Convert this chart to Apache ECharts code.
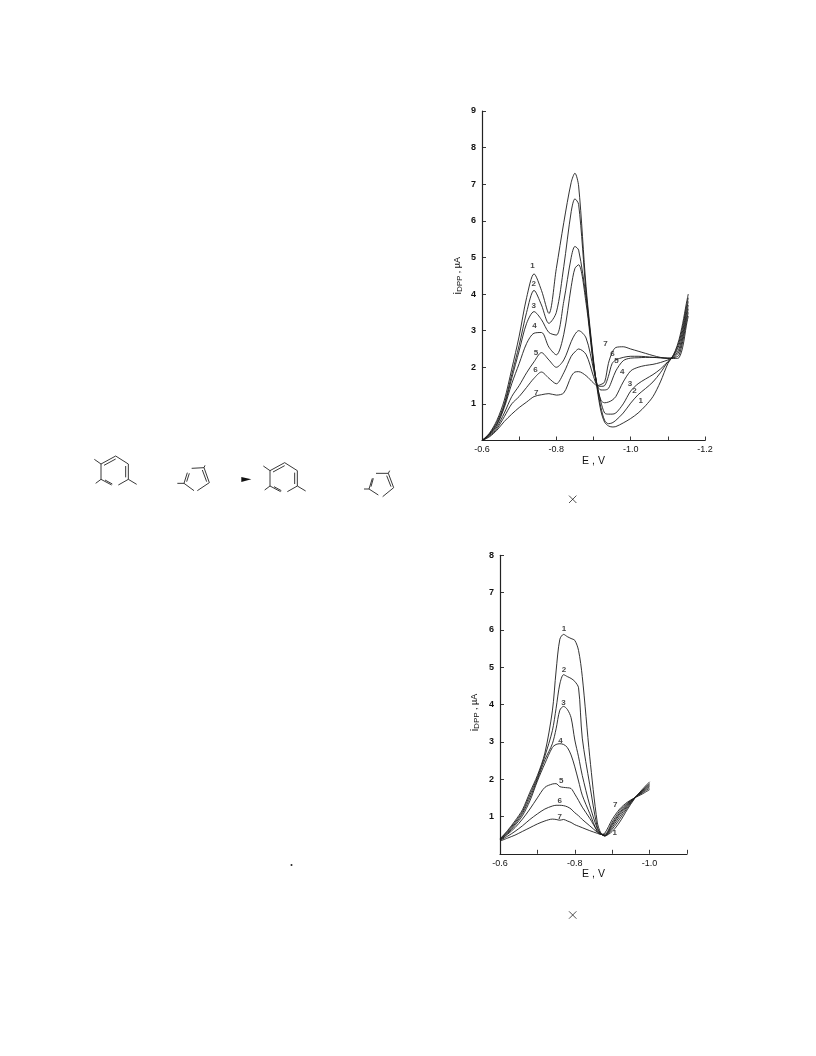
<!DOCTYPE html>
<html><head><meta charset="utf-8">
<style>html,body{margin:0;padding:0;background:#fff}#c{width:816px;height:1056px}</style>
<script src="https://cdn.jsdelivr.net/npm/echarts@6/dist/echarts.min.js"></script>
</head><body><div id="c"></div>
<script>
// Upper panel: E (V, magnitude) and i_DPP (uA)
const topE = [.60,.62,.64,.66,.68,.70,.72,.74,.76,.78,.80,.82,.84,.85,.86,.88,.90,.91,.92,.93,.94,.95,.96,.98,1.00,1.02,1.04,1.06,1.08,1.10,1.11,1.12,1.13,1.14,1.15,1.155];
const top1 = [0,.2,.55,1.1,1.95,2.85,3.9,4.55,4.1,3.47,4.7,5.95,7.05,7.3,6.95,4.2,2.2,1.4,.8,.5,.4,.37,.38,.48,.6,.75,.95,1.2,1.6,2.1,2.25,2.45,2.75,3.2,3.75,4.0];
const top2 = [0,.18,.5,1.0,1.8,2.6,3.5,4.1,3.7,3.2,3.5,4.75,6.25,6.6,6.45,4.05,2.15,1.45,.9,.55,.46,.48,.55,.75,1.02,1.25,1.42,1.6,1.85,2.15,2.25,2.42,2.68,3.1,3.65,3.9];
const top3 = [0,.17,.45,.95,1.7,2.45,3.2,3.52,3.3,2.95,2.88,3.8,5.0,5.3,5.2,3.9,2.1,1.5,1.05,.75,.72,.72,.75,1.0,1.35,1.55,1.68,1.8,1.95,2.15,2.25,2.38,2.6,3.0,3.55,3.8];
const top4 = [0,.16,.42,.9,1.55,2.1,2.65,2.93,2.95,2.55,2.34,2.9,4.2,4.7,4.8,3.75,2.05,1.5,1.1,1.03,1.05,1.1,1.2,1.6,1.9,2.0,2.05,2.08,2.13,2.2,2.25,2.33,2.5,2.9,3.45,3.7];
const top5 = [0,.14,.37,.75,1.2,1.5,1.85,2.15,2.4,2.2,2.0,2.2,2.7,2.9,3.0,2.8,1.95,1.5,1.38,1.38,1.42,1.65,1.9,2.18,2.25,2.26,2.27,2.27,2.26,2.25,2.25,2.3,2.42,2.8,3.35,3.6];
const top6 = [0,.12,.32,.65,1.0,1.2,1.45,1.7,1.87,1.7,1.55,1.85,2.3,2.42,2.5,2.35,1.75,1.5,1.48,1.5,1.75,2.1,2.2,2.27,2.3,2.3,2.29,2.27,2.26,2.25,2.25,2.27,2.33,2.7,3.25,3.5];
const top7 = [0,.1,.28,.52,.72,.9,1.05,1.2,1.25,1.28,1.24,1.3,1.75,1.87,1.88,1.77,1.57,1.5,1.53,1.6,2.1,2.4,2.54,2.56,2.5,2.44,2.38,2.32,2.27,2.24,2.24,2.24,2.26,2.55,3.15,3.4];
const topLabels = [['1',.736,4.77],['2',.739,4.29],['3',.739,3.67],['4',.741,3.12],['5',.745,2.39],['6',.744,1.92],['7',.746,1.3],
  ['7',.932,2.65],['6',.951,2.36],['5',.962,2.17],['4',.977,1.89],['3',.998,1.56],['2',1.01,1.35],['1',1.027,1.08]];

// Lower panel
const botE = [.60,.62,.64,.66,.68,.70,.72,.74,.75,.76,.77,.78,.79,.80,.81,.82,.84,.86,.87,.88,.90,.92,.94,.96,.98,1.00];
const bot1 = [.40,.62,.88,1.18,1.65,2.1,2.7,3.83,4.9,5.75,5.88,5.82,5.77,5.72,5.45,4.75,2.6,.85,.55,.48,.6,.85,1.18,1.48,1.72,1.93];
const bot2 = [.39,.6,.84,1.13,1.58,2.05,2.62,3.3,3.9,4.55,4.8,4.75,4.7,4.62,4.45,3.1,1.85,.72,.54,.48,.66,.93,1.23,1.49,1.70,1.89];
const bot3 = [.38,.57,.8,1.08,1.5,2.0,2.52,2.95,3.35,3.85,3.95,3.87,3.65,3.05,2.6,2.1,1.3,.68,.53,.48,.71,1.0,1.27,1.5,1.69,1.86];
const bot4 = [.37,.54,.76,1.02,1.42,1.95,2.42,2.85,2.93,2.95,2.93,2.85,2.65,2.33,1.95,1.57,1.08,.6,.53,.49,.76,1.06,1.3,1.5,1.67,1.83];
const bot5 = [.37,.52,.7,.93,1.2,1.5,1.78,1.87,1.88,1.8,1.78,1.77,1.75,1.6,1.43,1.25,.95,.62,.53,.5,.8,1.1,1.33,1.5,1.65,1.80];
const bot6 = [.36,.47,.6,.75,.92,1.07,1.2,1.28,1.3,1.3,1.29,1.26,1.2,1.1,1.02,.92,.75,.58,.52,.52,.85,1.15,1.35,1.5,1.63,1.76];
const bot7 = [.34,.42,.5,.6,.7,.8,.88,.93,.92,.9,.92,.88,.84,.78,.74,.7,.62,.55,.52,.55,.92,1.2,1.38,1.5,1.6,1.72];
const botLabels = [['1',.771,6.02],['2',.771,4.94],['3',.77,4.05],['4',.762,3.04],['5',.764,1.95],['6',.76,1.42],['7',.76,1.0],['7',.908,1.3],['1',.907,.55]];

const xName = 'E , V';
const FONT = 'Liberation Sans';
const INK = '#1c1c1c';

// Scheme artwork and small page marks (page decoration, not chart data)
const hexagon = [[[63,72],[107,48],[145,72],[145,118],[115,135]],[[95,135],[63,118],[63,72]],[[72,76],[107,57]],[[137,78],[137,112]],[[75,120],[97,132]],[[43,58],[63,72]],[[47,130],[63,118]],[[145,118],[170,133]]];
const penta = [[[292,130],[312,130],[322,98]],[[335,85],[372,83],[388,128],[352,152]],[[342,152],[312,130]],[[320,125],[328,100]],[[367,90],[380,125]],[[372,83],[375,76]]];
const penta2 = [[[852,147],[867,147],[877,115]],[[888,100],[925,100],[941,143],[908,170]],[[895,165],[867,147]],[[873,140],[880,115]],[[920,107],[933,140]],[[925,100],[929,92]]];
const crossMarks = [[572.7,499.3],[572.7,915]];

function z(p,dx,dy){return p.map(q=>[80+(q[0]+dx)/3,440+(q[1]+dy)/3]);}
const graphic=[];
function addShape(list,dx,dy){list.forEach(pl=>graphic.push({type:'polyline',shape:{points:z(pl,dx,dy)},style:{stroke:'#222',fill:null,lineWidth:.9},silent:true}));}
addShape(hexagon,0,0);addShape(penta,0,0);addShape(hexagon,507,20);addShape(penta2,0,0);
graphic.push({type:'polygon',shape:{points:z([[484,111],[514,118],[484,126]],0,0)},style:{fill:'#111'},silent:true});
crossMarks.forEach(c=>{
  graphic.push({type:'line',shape:{x1:c[0]-3.7,y1:c[1]-3.7,x2:c[0]+3.7,y2:c[1]+3.7},style:{stroke:'#222',lineWidth:.8},silent:true});
  graphic.push({type:'line',shape:{x1:c[0]-3.7,y1:c[1]+3.7,x2:c[0]+3.7,y2:c[1]-3.7},style:{stroke:'#222',lineWidth:.8},silent:true});
});
graphic.push({type:'circle',shape:{cx:291.5,cy:865,r:1},style:{fill:'#222'},silent:true});

function lines(E,arr,idx){
  const pts=E.map(e=>-e);
  return arr.map(v=>({type:'line',xAxisIndex:idx,yAxisIndex:idx,data:v.map((y,i)=>[pts[i],y]),smooth:.3,symbol:'none',clip:false,silent:true,
    lineStyle:{color:INK,width:.9}}));
}
function labels(L,idx){
  return {type:'scatter',xAxisIndex:idx,yAxisIndex:idx,symbolSize:1,silent:true,clip:false,itemStyle:{color:'transparent'},
    data:L.map(l=>({name:l[0],value:[-l[1],l[2]]})),
    label:{show:true,position:'inside',formatter:'{b}',fontFamily:FONT,fontSize:8,fontWeight:'bold',color:'#111'}};
}
function xAx(gi,min,gap){return {type:'value',gridIndex:gi,inverse:true,min:min,max:-0.6,interval:.1,
  axisLine:{onZero:false,lineStyle:{color:'#222',width:1.2}},axisTick:{inside:true,length:4,lineStyle:{color:'#222',width:.9}},splitLine:{show:false},
  axisLabel:{fontFamily:FONT,fontSize:9,color:'#111',margin:5,showMinLabel:true,showMaxLabel:true,
    formatter:v=>Math.round(-v*10)%2===0?'-'+(-v).toFixed(1):''},
  name:xName,nameLocation:'middle',nameGap:gap,nameTextStyle:{fontFamily:FONT,fontSize:10.5,color:'#111'}};}
function yAx(gi,max,gap,shift){return {type:'value',gridIndex:gi,min:0,max:max,interval:1,
  axisLine:{onZero:false,lineStyle:{color:'#222',width:1.2}},axisTick:{inside:true,length:4,lineStyle:{color:'#222',width:.9}},splitLine:{show:false},
  axisLabel:{fontFamily:FONT,fontSize:9,fontWeight:'bold',color:'#111',margin:6,formatter:v=>v===0?'':String(v)},
  name:'{i|i}{s|DPP}{n| , \u00b5A}',nameLocation:'middle',nameRotate:90,nameGap:gap,
  nameTextStyle:{padding:[0,shift,0,0],rich:{i:{fontFamily:FONT,fontSize:11,color:'#111'},s:{fontFamily:FONT,fontSize:8,color:'#111',padding:[5,0,0,0]},n:{fontFamily:FONT,fontSize:9,color:'#111'}}}};}

const chart=echarts.init(document.getElementById('c'),null,{renderer:'canvas'});
chart.setOption({
  animation:false,backgroundColor:'#fff',
  grid:[{left:482,top:111,width:223,height:329.5},{left:500,top:555.3,width:187,height:298.5}],
  xAxis:[xAx(0,-1.2,15),xAx(1,-1.1,14)],
  yAxis:[yAx(0,9,18,0),yAx(1,8,19,16)],
  series:[...lines(topE,[top1,top2,top3,top4,top5,top6,top7],0),labels(topLabels,0),
          ...lines(botE,[bot1,bot2,bot3,bot4,bot5,bot6,bot7],1),labels(botLabels,1)],
  graphic:graphic
});
</script></body></html>
